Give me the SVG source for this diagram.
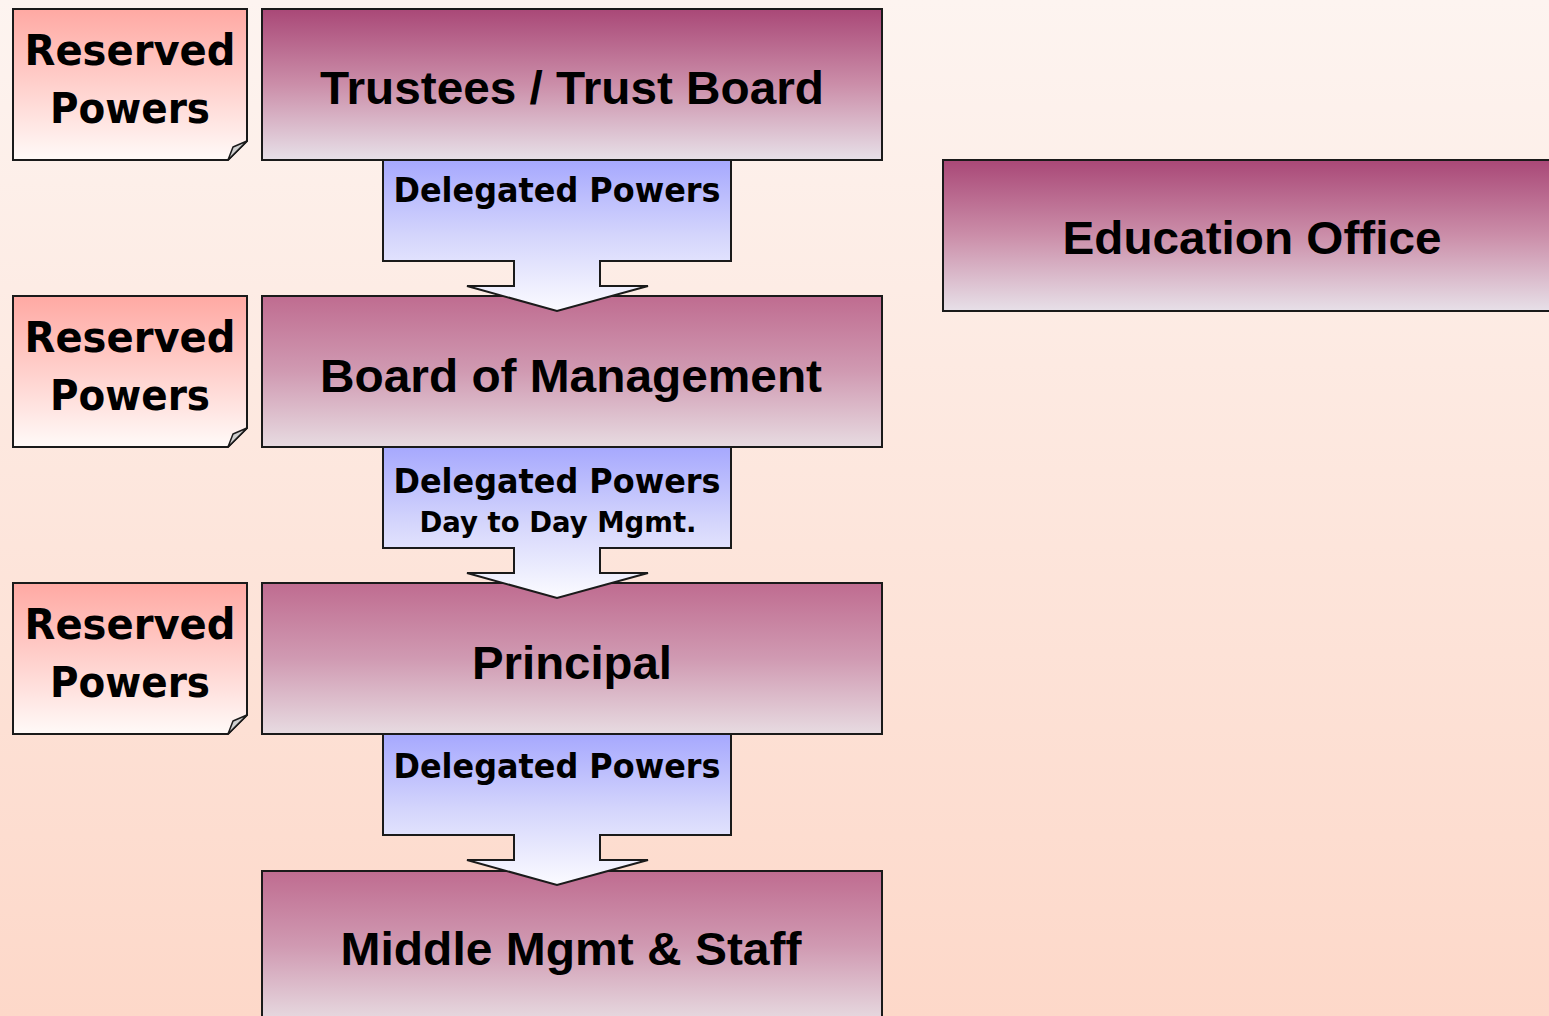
<svg xmlns="http://www.w3.org/2000/svg" width="1549" height="1016" viewBox="0 0 1549 1016">
<style>
.box{stroke:#1a1a1a;stroke-width:2}
.boxt{font-family:"Liberation Sans",Arial,sans-serif;font-weight:bold;font-size:47px;fill:#000;text-anchor:middle}
.note{fill:url(#gNote);stroke:#1a1a1a;stroke-width:2}
.fold{fill:#cfcfcf;stroke:#1a1a1a;stroke-width:1.5;stroke-linejoin:round}
.notet{font-family:"DejaVu Sans",Verdana,sans-serif;font-weight:bold;font-size:42px;fill:#000;text-anchor:middle}
.call{fill:url(#gCall);stroke:#1a1a1a;stroke-width:2;stroke-linejoin:miter}
.callt{font-family:"DejaVu Sans",Verdana,sans-serif;font-weight:bold;font-size:33px;fill:#000;text-anchor:middle}
.calls{font-family:"DejaVu Sans",Verdana,sans-serif;font-weight:bold;font-size:28px;fill:#000;text-anchor:middle}
</style>
<defs>
<linearGradient id="gBg" x1="0" y1="0" x2="0" y2="1">
<stop offset="0" stop-color="#fdf4f0"/>
<stop offset="1" stop-color="#fdd8c9"/>
</linearGradient>
<linearGradient id="gBoxA" x1="0" y1="0" x2="0" y2="1">
<stop offset="0" stop-color="#a94877"/>
<stop offset="0.5" stop-color="#cb8ea9"/>
<stop offset="1" stop-color="#e7e0e8"/>
</linearGradient>
<linearGradient id="gBoxB" x1="0" y1="0" x2="0" y2="1">
<stop offset="0" stop-color="#bf6c90"/>
<stop offset="0.5" stop-color="#d09ab2"/>
<stop offset="1" stop-color="#e7dbe1"/>
</linearGradient>
<linearGradient id="gNote" x1="0" y1="0" x2="0" y2="1">
<stop offset="0" stop-color="#ffa9a3"/>
<stop offset="0.5" stop-color="#ffd0cc"/>
<stop offset="1" stop-color="#fffaf8"/>
</linearGradient>
<linearGradient id="gCall" x1="0" y1="0" x2="0" y2="1">
<stop offset="0" stop-color="#a6a8fe"/>
<stop offset="0.5" stop-color="#d4d5fc"/>
<stop offset="1" stop-color="#fbfbff"/>
</linearGradient>
</defs>
<rect x="0" y="0" width="1549" height="1016" fill="url(#gBg)"/>

<g id="note1">
<path class="note" d="M13 9 H247 V141 L228 160 H13 Z"/>
<path class="fold" d="M228 160 L233 147 L247 141 Z"/>
<text class="notet" x="130" y="65" textLength="211" lengthAdjust="spacingAndGlyphs">Reserved</text>
<text class="notet" x="130" y="123" textLength="160" lengthAdjust="spacingAndGlyphs">Powers</text>
</g>
<g id="note2">
<path class="note" d="M13 296 H247 V428 L228 447 H13 Z"/>
<path class="fold" d="M228 447 L233 434 L247 428 Z"/>
<text class="notet" x="130" y="352" textLength="211" lengthAdjust="spacingAndGlyphs">Reserved</text>
<text class="notet" x="130" y="410" textLength="160" lengthAdjust="spacingAndGlyphs">Powers</text>
</g>
<g id="note3">
<path class="note" d="M13 583 H247 V715 L228 734 H13 Z"/>
<path class="fold" d="M228 734 L233 721 L247 715 Z"/>
<text class="notet" x="130" y="639" textLength="211" lengthAdjust="spacingAndGlyphs">Reserved</text>
<text class="notet" x="130" y="697" textLength="160" lengthAdjust="spacingAndGlyphs">Powers</text>
</g>

<g id="trustees">
<rect class="box" x="262" y="9" width="620" height="151" fill="url(#gBoxA)"/>
<text class="boxt" x="572" y="104" textLength="504" lengthAdjust="spacingAndGlyphs">Trustees / Trust Board</text>
</g>
<g id="board">
<rect class="box" x="262" y="296" width="620" height="151" fill="url(#gBoxB)"/>
<text class="boxt" x="571" y="392" textLength="502" lengthAdjust="spacingAndGlyphs">Board of Management</text>
</g>
<g id="principal">
<rect class="box" x="262" y="583" width="620" height="151" fill="url(#gBoxB)"/>
<text class="boxt" x="572" y="679" textLength="200" lengthAdjust="spacingAndGlyphs">Principal</text>
</g>
<g id="middle">
<rect class="box" x="262" y="871" width="620" height="151" fill="url(#gBoxB)"/>
<text class="boxt" x="571" y="965" textLength="461" lengthAdjust="spacingAndGlyphs">Middle Mgmt &amp; Staff</text>
</g>
<g id="education">
<rect class="box" x="943" y="160" width="620" height="151" fill="url(#gBoxA)"/>
<text class="boxt" x="1252" y="254" textLength="379" lengthAdjust="spacingAndGlyphs">Education Office</text>
</g>

<g id="connectors">
<g id="deleg1">
<path class="call" d="M383 160 H731 V261 H600 V286 H648 L557 311 L467 286 H514 V261 H383 Z"/>
<text class="callt" x="557" y="202" textLength="327" lengthAdjust="spacingAndGlyphs">Delegated Powers</text>
</g>
<g id="deleg2">
<path class="call" d="M383 447 H731 V548 H600 V573 H648 L557 598 L467 573 H514 V548 H383 Z"/>
<text class="callt" x="557" y="493" textLength="327" lengthAdjust="spacingAndGlyphs">Delegated Powers</text>
<text class="calls" x="558" y="532" textLength="277" lengthAdjust="spacingAndGlyphs">Day to Day Mgmt.</text>
</g>
<g id="deleg3">
<path class="call" d="M383 734 H731 V835 H600 V860 H648 L557 885 L467 860 H514 V835 H383 Z"/>
<text class="callt" x="557" y="778" textLength="327" lengthAdjust="spacingAndGlyphs">Delegated Powers</text>
</g>
</g>
</svg>
